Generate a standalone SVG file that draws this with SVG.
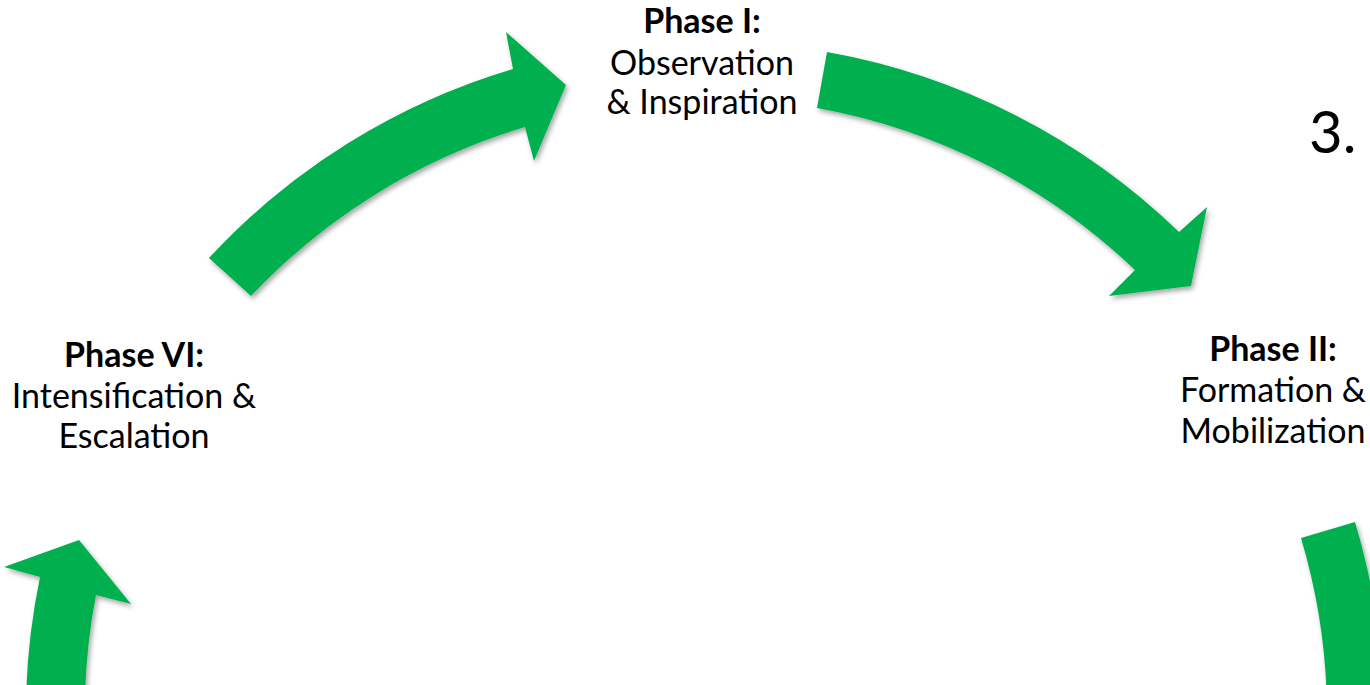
<svg xmlns="http://www.w3.org/2000/svg" width="1370" height="685" viewBox="0 0 1370 685">
<defs>
<filter id="sh" x="-20%" y="-20%" width="140%" height="140%">
<feDropShadow dx="2" dy="3" stdDeviation="2.5" flood-color="#000" flood-opacity="0.35"/>
</filter>
<style>
.arrow{fill:#00B050;filter:url(#sh);}
.t{font-family:Lato,"Open Sans",sans-serif;font-size:34px;fill:#000;text-anchor:middle;}
.b{font-weight:bold;}
</style>
</defs>
<rect width="1370" height="685" fill="#fff"/>
<g id="connectors">
<path class="arrow" d="M 209,258 A 677 677 0 0 1 513,69 L 506,32 L 566,85 L 534,161 L 525,127 A 620 620 0 0 0 251,296 Z"/>
<path class="arrow" d="M 827,52 A 677 677 0 0 1 1179,232 L 1207,207 L 1191,286 L 1109,296 L 1135,270 A 620 620 0 0 0 817,108 Z"/>
<path class="arrow" d="M 1301,538 L 1355,522 A 677 677 0 0 1 1383,750 L 1326,750 A 620 620 0 0 0 1301,538 Z"/>
<path class="arrow" d="M 26,730 A 680 680 0 0 1 40,577 L 4,567 L 79,540 L 131,604 L 96,595 A 622 622 0 0 0 85,730 Z"/>
</g>
<g id="phase1">
<text class="t" x="702" y="33"><tspan class="b">Phase I:</tspan></text>
<text class="t" x="702" y="75">Observation</text>
<text class="t" x="702" y="114">&amp; Inspiration</text>
</g>
<g id="phase2">
<text class="t" x="1273" y="361"><tspan class="b">Phase II:</tspan></text>
<text class="t" x="1273" y="402">Formation &amp;</text>
<text class="t" x="1273" y="443">Mobilization</text>
</g>
<g id="phase6">
<text class="t" x="134" y="367"><tspan class="b">Phase VI:</tspan></text>
<text class="t" x="134" y="408">Intensification &amp;</text>
<text class="t" x="134" y="448">Escalation</text>
</g>
<g id="label3">
<text class="t" x="1309" y="153" style="text-anchor:start;font-size:58px">3.</text>
</g>
</svg>
